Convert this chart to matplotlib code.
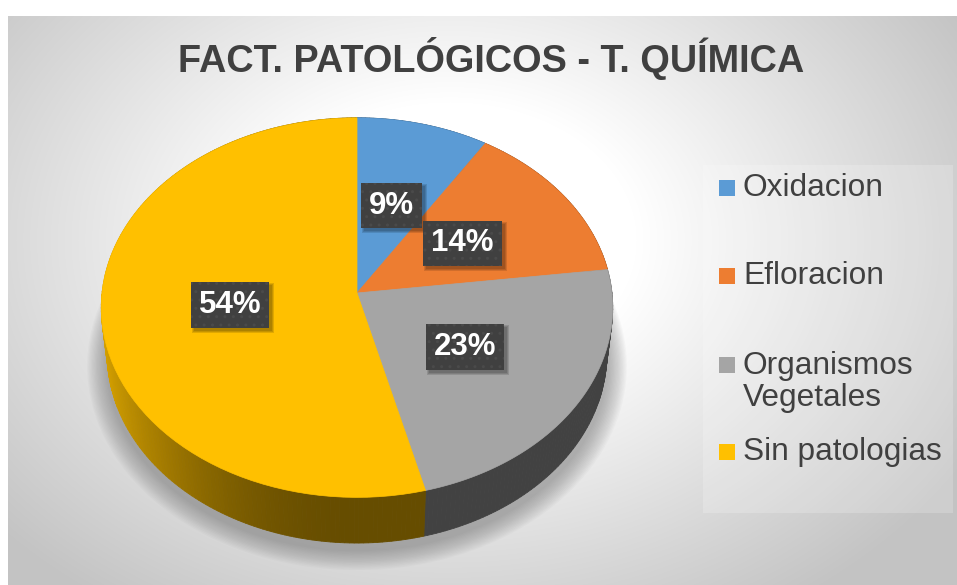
import numpy as np
import matplotlib
matplotlib.use('Agg')
import matplotlib.pyplot as plt
from matplotlib.patches import Polygon, Rectangle

plt.rcParams['font.family'] = ['Liberation Sans', 'DejaVu Sans']

# datos
categorias = ['Oxidacion', 'Efloracion', 'Organismos\nVegetales', 'Sin patologias']
valores = [9, 14, 23, 54]
colores = ['#5b9bd5', '#ed7d31', '#a5a5a5', '#ffc000']
titulo = 'FACT. PATOLÓGICOS - T. QUÍMICA'

# geometria de la torta 3D (pixeles de la imagen)
CX, CY = 357, 293
F, D = 2231.0, 8.75
SA, CA = 0.74, 0.673
H = 0.28


def proj(X, Y, Z):
    w = D - Y * SA + Z * CA
    up = Y * CA + Z * SA
    return CX + F * X / w, CY - F * up / w


def ring(t, Y=0.0, r=1.0):
    t = np.radians(t)
    return proj(r * np.sin(t), Y, r * np.cos(t))


fig = plt.figure(figsize=(9.57, 5.85), dpi=100)
ax = fig.add_axes([0, 0, 1, 1])
ax.set_xlim(0, 957)
ax.set_ylim(585, 0)
ax.axis('off')

# fondo con degradado radial
xx, yy = np.meshgrid(np.arange(8, 957), np.arange(16, 585))
d = np.sqrt(((xx - 450) / 620) ** 2 + ((yy - 240) / 460) ** 2)
g = np.clip(255 - 90 * np.clip(d - 0.3, 0, None), 195, 255) / 255
ax.imshow(np.dstack([g, g, g]), extent=(8, 957, 585, 16), zorder=0)

# panel de la leyenda
ax.add_patch(Rectangle((703, 165), 250, 348, facecolor='white', alpha=0.2,
                       edgecolor='none', zorder=1))

# sombra de la torta
tt = np.linspace(0, 360, 361)
bx, by = ring(tt, -H)
for i in range(16):
    s = 1 + 0.005 * (i + 1)
    px = CX + (bx - CX) * s
    py = CY + 7 + (by - CY) * s
    ax.add_patch(Polygon(np.column_stack([px, py]), closed=True,
                         facecolor='#707070', edgecolor='none', alpha=0.04, zorder=2))

# limites de los sectores (grados, sentido horario desde arriba)
frac = np.array(valores) / np.sum(valores)
lim = np.concatenate([[0], np.cumsum(frac) * 360])

# lateral
quads = []
for k in range(len(valores)):
    rgb = np.array(matplotlib.colors.to_rgb(colores[k]))
    steps = np.arange(lim[k], lim[k + 1], 1.0)
    steps = np.append(steps, lim[k + 1])
    for a, b in zip(steps[:-1], steps[1:]):
        m = np.radians((a + b) / 2)
        sh = 0.4 + 0.45 * max(0, -np.sin(m)) ** 2
        x1, y1 = ring(a)
        x2, y2 = ring(b)
        x3, y3 = ring(b, -H)
        x4, y4 = ring(a, -H)
        quads.append((np.cos(m), [(x1, y1), (x2, y2), (x3, y3), (x4, y4)], rgb * sh))
quads.sort(key=lambda q: -q[0])
for _, pts, c in quads:
    ax.add_patch(Polygon(pts, closed=True, facecolor=c, edgecolor=c,
                         linewidth=0.6, zorder=3))

# cara superior
for k in range(len(valores)):
    t = np.linspace(lim[k], lim[k + 1], 80)
    x, y = ring(t)
    pts = np.column_stack([np.r_[CX, x], np.r_[CY, y]])
    ax.add_patch(Polygon(pts, closed=True, facecolor=colores[k], edgecolor=colores[k],
                         linewidth=0.5, zorder=4))

# etiquetas de porcentaje
etiquetas = []
for k in range(len(valores)):
    lx, ly = ring((lim[k] + lim[k + 1]) / 2, 0, 0.5)
    txt = f'{round(frac[k] * 100)}%'
    etiquetas.append(ax.text(lx, ly, txt, ha='center', va='center', fontsize=22.5,
                             fontweight='bold', color='white', zorder=6,
                             bbox=dict(boxstyle='square,pad=0.25', facecolor='#404040',
                                       edgecolor='#4a4a4a', linewidth=0, hatch='..')))

# titulo
ax.text(491, 58, titulo, ha='center', va='center', fontsize=27.3,
        fontweight='bold', color='#404040', zorder=6)

# leyenda
ley_y = [188, 276, 382, 452]
for k in range(len(categorias)):
    ax.add_patch(Rectangle((719, ley_y[k] - 8 - (17 if '\n' in categorias[k] else 0)),
                           16, 16, facecolor=colores[k], edgecolor='none', zorder=6))
    ax.text(743, ley_y[k], categorias[k], ha='left', va='center', fontsize=22.8,
            color='#404040', linespacing=1.1, zorder=6)

# sombras de las etiquetas
fig.canvas.draw()
inv = ax.transData.inverted()
for e in etiquetas:
    bb = e.get_bbox_patch().get_window_extent()
    (x0, y0), (x1, y1) = inv.transform([[bb.x0 + 3, bb.y0 - 3], [bb.x1 + 3, bb.y1 - 3]])
    for j in range(3):
        ax.add_patch(Rectangle((min(x0, x1) - j, min(y0, y1) - j),
                               abs(x1 - x0) + 2 * j, abs(y1 - y0) + 2 * j,
                               facecolor='black', alpha=0.12, edgecolor='none', zorder=5))

fig.savefig('out.png', dpi=100)
